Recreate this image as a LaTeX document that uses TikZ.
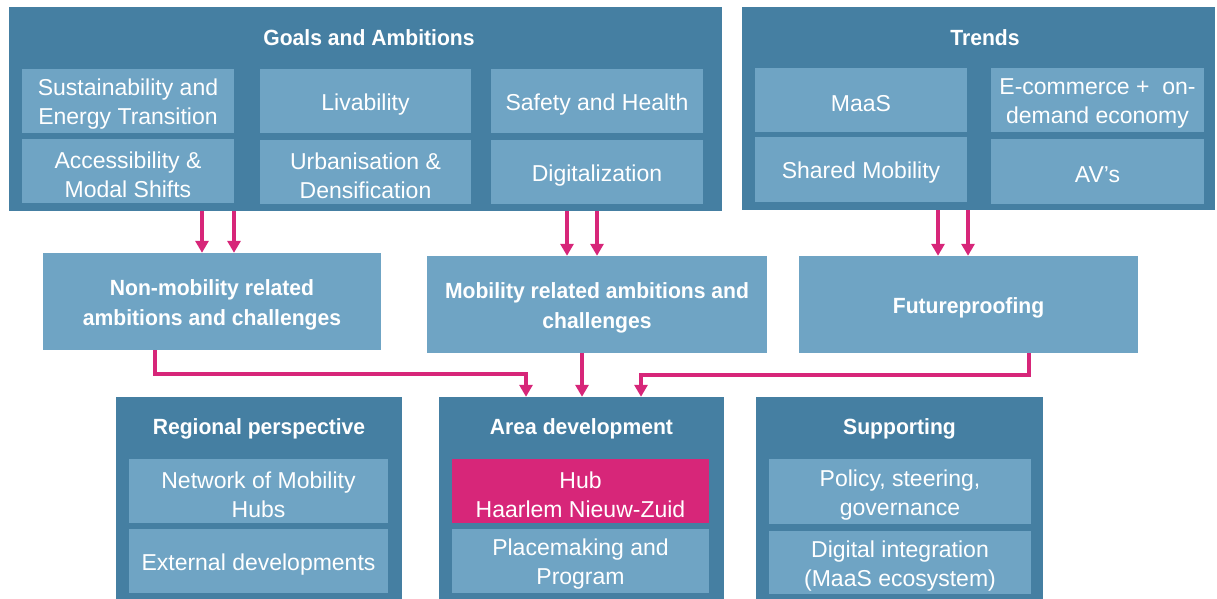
\documentclass[tikz,border=0pt]{standalone}
\usepackage{fontspec}
\setmainfont{Liberation Sans}
\newfontfamily\titlef[FakeStretch=0.96]{Liberation Sans}
\usetikzlibrary{arrows.meta}
\definecolor{darkb}{RGB}{69,127,162}
\definecolor{lightb}{RGB}{111,164,196}
\definecolor{hubm}{RGB}{215,38,121}
\tikzset{
  outerbox/.style={fill=darkb, draw=none, inner sep=0pt},
  innerbox/.style={fill=lightb, draw=none, inner sep=0pt},
  hubbox/.style={innerbox, fill=hubm},
  midbox/.style={fill=lightb, draw=none, inner sep=0pt},
  itext/.style={text=white, align=center, inner sep=0pt, yshift=-3.5pt,
    font=\fontsize{23}{29}\selectfont},
  mtext/.style={text=white, align=center, inner sep=0pt, yshift=-3pt,
    font=\titlef\bfseries\fontsize{22}{30}\selectfont},
  titletext/.style={text=white, inner sep=0pt, font=\titlef\bfseries\fontsize{22}{26}\selectfont},
  arr/.style={draw=hubm, line width=3.5pt, -{Triangle[width=13pt,length=12pt]}},
}
\begin{document}
\begin{tikzpicture}[x=1pt,y=-1pt]
\useasboundingbox (0,0) rectangle (1217,599);
% Goals and Ambitions
\node[outerbox, minimum width=713pt, minimum height=204pt] (goals) at (365.5,109) {};
\node[titletext] (goalsT) at (369,38) {Goals and Ambitions};
\node[innerbox, minimum width=212pt, minimum height=64pt, label={[itext]center:{Sustainability and\\Energy Transition}}] (g1) at (128,101) {};
\node[innerbox, minimum width=211pt, minimum height=64pt, label={[itext]center:{Livability}}] (g2) at (365.5,101) {};
\node[innerbox, minimum width=212pt, minimum height=64pt, label={[itext]center:{Safety and Health}}] (g3) at (597,101) {};
\node[innerbox, minimum width=212pt, minimum height=64pt, label={[itext]center:{Accessibility \&\\Modal Shifts}}] (g4) at (128,171) {};
\node[innerbox, minimum width=211pt, minimum height=64pt, label={[itext]center:{Urbanisation \&\\Densification}}] (g5) at (365.5,172) {};
\node[innerbox, minimum width=212pt, minimum height=64pt, label={[itext]center:{Digitalization}}] (g6) at (597,172) {};
% Trends
\node[outerbox, minimum width=473pt, minimum height=203pt] (trends) at (978.5,108.5) {};
\node[titletext] (trendsT) at (985,38) {Trends};
\node[innerbox, minimum width=212pt, minimum height=64pt, label={[itext]center:{MaaS}}] (t1) at (861,100) {};
\node[innerbox, minimum width=213pt, minimum height=64pt, label={[itext]center:{E-commerce +\ \ on-\\demand economy}}] (t2) at (1097.5,100) {};
\node[innerbox, minimum width=212pt, minimum height=65pt, label={[itext]center:{Shared Mobility}}] (t3) at (861,169.5) {};
\node[innerbox, minimum width=213pt, minimum height=65pt, label={[itext]center:{AV’s}}] (t4) at (1097.5,171.5) {};
% Middle row
\node[midbox, minimum width=338pt, minimum height=97pt, label={[mtext]center:{Non-mobility related\\ambitions and challenges}}] (nm) at (212,301.5) {};
\node[midbox, minimum width=340pt, minimum height=97pt, label={[mtext]center:{Mobility related ambitions and\\challenges}}] (mob) at (597,304.5) {};
\node[midbox, minimum width=339pt, minimum height=97pt, label={[mtext]center:{Futureproofing}}] (fut) at (968.5,304.5) {};
% Bottom row
\node[outerbox, minimum width=286pt, minimum height=204pt] (reg) at (259,499) {};
\node[titletext] (regT) at (259,429) {Regional perspective};
\node[innerbox, minimum width=259pt, minimum height=64pt, label={[itext]center:{Network of Mobility\\Hubs}}] (r1) at (258.5,491) {};
\node[innerbox, minimum width=259pt, minimum height=64pt, label={[itext]center:{External developments}}] (r2) at (258.5,561) {};
\node[outerbox, minimum width=285pt, minimum height=204pt] (area) at (581.5,499) {};
\node[titletext] (areaT) at (581.5,429) {Area development};
\node[hubbox, minimum width=257pt, minimum height=64pt, label={[itext]center:{Hub\\Haarlem Nieuw-Zuid}}] (hub) at (580.5,491) {};
\node[innerbox, minimum width=257pt, minimum height=64pt, label={[itext]center:{Placemaking and\\Program}}] (place) at (580.5,561) {};
\node[outerbox, minimum width=287pt, minimum height=204pt] (sup) at (899.5,499) {};
\node[titletext] (supT) at (899.5,429) {Supporting};
\node[innerbox, minimum width=262pt, minimum height=65pt, label={[itext]center:{Policy, steering,\\governance}}] (s1) at (900,491.5) {};
\node[innerbox, minimum width=262pt, minimum height=63pt, label={[itext]center:{Digital integration\\(MaaS ecosystem)}}] (s2) at (900,562.5) {};
% guide coordinates
\coordinate (a1) at (202,0);
\coordinate (a2) at (234,0);
\coordinate (a3) at (567,0);
\coordinate (a4) at (597,0);
\coordinate (a5) at (938,0);
\coordinate (a6) at (968,0);
\coordinate (k1) at (155,0);
\coordinate (k2) at (582,0);
\coordinate (k3) at (1029,0);
\coordinate (j1) at (526,374);
\coordinate (j3) at (641,375);
% arrows
\draw[arr] (goals.south -| a1) -- (nm.north -| a1);
\draw[arr] (goals.south -| a2) -- (nm.north -| a2);
\draw[arr] (goals.south -| a3) -- (mob.north -| a3);
\draw[arr] (goals.south -| a4) -- (mob.north -| a4);
\draw[arr] (trends.south -| a5) -- (fut.north -| a5);
\draw[arr] (trends.south -| a6) -- (fut.north -| a6);
\draw[arr] (nm.south -| k1) |- (j1) -- (area.north -| j1);
\draw[arr] (mob.south -| k2) -- (area.north -| k2);
\draw[arr] (fut.south -| k3) |- (j3) -- (area.north -| j3);
\end{tikzpicture}
\end{document}
